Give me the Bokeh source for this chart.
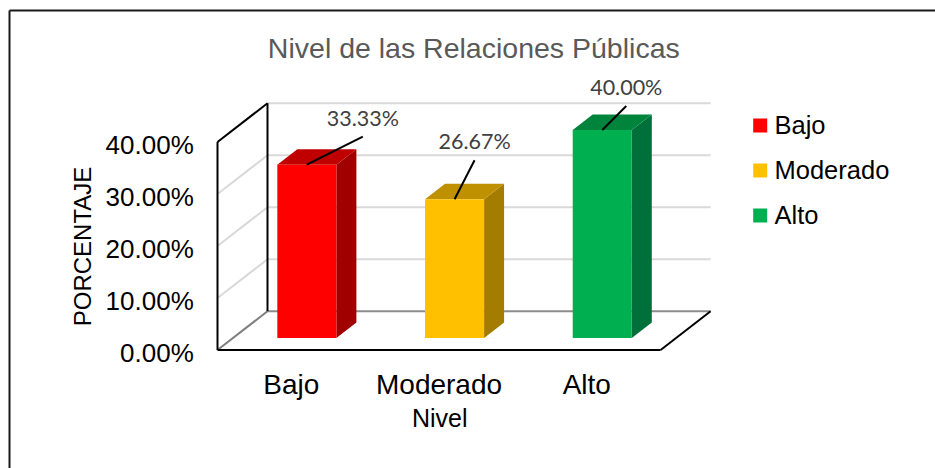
import math
from bokeh.plotting import figure
from bokeh.models import Range1d
from bokeh.core.properties import value
from bokeh.embed import file_html
from bokeh.resources import INLINE

# ---------------- data ----------------
chart_title = "Nivel de las Relaciones Públicas"
categories = ["Bajo", "Moderado", "Alto"]
percentages = [33.33, 26.67, 40.00]
value_labels = ["33.33%", "26.67%", "40.00%"]
y_ticks = [0, 10, 20, 30, 40]
y_tick_labels = ["0.00%", "10.00%", "20.00%", "30.00%", "40.00%"]
x_axis_title = "Nivel"
y_axis_title = "PORCENTAJE"

# ---------------- style ----------------
front_colors = ["#FF0000", "#FFC000", "#00B050"]
top_colors = ["#C00000", "#BF9000", "#00843C"]
side_colors = ["#A00000", "#A47C00", "#00703A"]
label_offsets_px = [(56, 38), (20, 49), (24, 34)]  # (right, up) of data labels from bar top

W, H = 935, 468
PAGE_X0, PAGE_Y0 = 0, 0
TEXT_DY = -9.0      # empirical baseline correction (px, negative = up)
PX_CAT = 147.7      # pixels per category
PX_PCT = 5.2        # pixels per percent
ORIGIN_X = 217.0    # page x of front-left floor corner
ORIGIN_Y = 349.5    # page y of front floor line


def X(px):
    return (px - ORIGIN_X) / PX_CAT - 0.5


def Y(py):
    return (ORIGIN_Y - py) / PX_PCT


def YT(py):
    return Y(py + TEXT_DY)


DX = 50.0 / PX_CAT
DY = 38.8 / PX_PCT
BAR_W = 0.4
DEPTH_F = 0.31
SIDE_F = 0.4
ARIAL = value("Liberation Sans")

p = figure(width=W, height=H, output_backend="svg", toolbar_location=None,
           x_range=Range1d(X(PAGE_X0), X(PAGE_X0 + W)),
           y_range=Range1d(Y(PAGE_Y0 + H), Y(PAGE_Y0)),
           x_axis_location=None, y_axis_location=None, min_border=0,
           background_fill_color="white", border_fill_color="white")
p.grid.visible = False
p.outline_line_color = None

n = len(categories)
x0, x1 = -0.5, n - 0.5
top_val = y_ticks[-1]

# outer chart border (left and top)
p.multi_line(xs=[[X(9), X(9)], [X(9), X(PAGE_X0 + W)]],
             ys=[[Y(PAGE_Y0 + H), Y(10)], [Y(10), Y(10)]],
             line_color="#1A1A1A", line_width=2)

# back wall gridlines
for t in y_ticks:
    col = "#8C8C8C" if t == 0 else "#D9D9D9"
    p.line([x0 + DX, x1 + DX], [t + DY, t + DY], line_color=col, line_width=2)
# side wall gridlines
for t in y_ticks:
    if t == 0 or t == top_val:
        continue
    p.line([x0, x0 + DX], [t, t + DY], line_color="#D9D9D9", line_width=2)
# floor left diagonal
p.line([x0, x0 + DX], [0, DY], line_color="#7F7F7F", line_width=2)

# wall outlines
p.multi_line(xs=[[x0, x0], [x0, x0 + DX], [x0 + DX, x0 + DX], [x0, x1], [x1, x1 + DX]],
             ys=[[0, top_val], [top_val, top_val + DY], [DY, top_val + DY], [0, 0], [0, DY]],
             line_color="black", line_width=2)

# bars
ox, oy = DEPTH_F * DX, DEPTH_F * DY
sx, sy = SIDE_F * DX, SIDE_F * DY
front_xs, front_ys, side_xs, side_ys, top_xs, top_ys = [], [], [], [], [], []
for i, v in enumerate(percentages):
    l, r = i - BAR_W / 2 + ox, i + BAR_W / 2 + ox
    b, t = oy, v + oy
    front_xs.append([l, r, r, l]); front_ys.append([b, b, t, t])
    side_xs.append([r, r + sx, r + sx, r]); side_ys.append([b, b + sy, t + sy, t])
    top_xs.append([l, r, r + sx, l + sx]); top_ys.append([t, t, t + sy, t + sy])
p.patches(side_xs, side_ys, fill_color=side_colors, line_color=None)
p.patches(top_xs, top_ys, fill_color=top_colors, line_color=None)
p.patches(front_xs, front_ys, fill_color=front_colors, line_color=None)

# data labels with leader lines
lx, ly, lead_xs, lead_ys = [], [], [], []
for i, v in enumerate(percentages):
    cx, ty = i + ox, v + oy
    dxp, dyp = label_offsets_px[i]
    tx, tyb = cx + dxp / PX_CAT, ty + dyp / PX_PCT
    lx.append(tx); ly.append(tyb - TEXT_DY / PX_PCT)
    lead_xs.append([cx, tx]); lead_ys.append([ty, tyb - 10 / PX_PCT])
p.multi_line(lead_xs, lead_ys, line_color="black", line_width=2)
p.text(lx, ly, text=value_labels, text_font=value("Lato"), text_font_size="21.5px",
       text_color="#404040", text_align="center", text_baseline="alphabetic")

# y tick labels
p.text([X(193.3)] * len(y_ticks), [t - TEXT_DY / PX_PCT for t in y_ticks],
       text=y_tick_labels, text_font=ARIAL,
       text_font_size="26px", text_color="black", text_align="right",
       text_baseline="alphabetic", y_offset=11.6)

# category labels
p.text(list(range(n)), [YT(393.3)] * n, text=categories, text_font=ARIAL,
       text_font_size="28px", text_color="black", text_align="center",
       text_baseline="alphabetic")

# axis titles
p.text([X(439.2)], [YT(426.7)], text=[x_axis_title], text_font=ARIAL,
       text_font_size="25px", text_color="black", text_align="center",
       text_baseline="alphabetic")
p.text([X(91 - 9)], [Y(246)], text=[y_axis_title], text_font=ARIAL, angle=math.pi / 2,
       text_font_size="24px", text_color="black", text_align="center",
       text_baseline="alphabetic")

# chart title
p.text([X(473.3)], [YT(56.7)], text=[chart_title], text_font=ARIAL,
       text_font_size="28.5px", text_color="#595959", text_align="center",
       text_baseline="alphabetic")

# legend
leg_y = [Y(125 + 45 * i) for i in range(n)]
p.scatter([X(759.7)] * n, leg_y, marker="square", size=14, fill_color=front_colors,
          line_color=None)
p.text([X(774)] * n, [YT(125 + 45 * i + 8.5) for i in range(n)], text=categories,
       text_font=ARIAL, text_font_size="25.5px",
       text_color="black", text_align="left", text_baseline="alphabetic")

open("out.html", "w").write(file_html(p, INLINE))
